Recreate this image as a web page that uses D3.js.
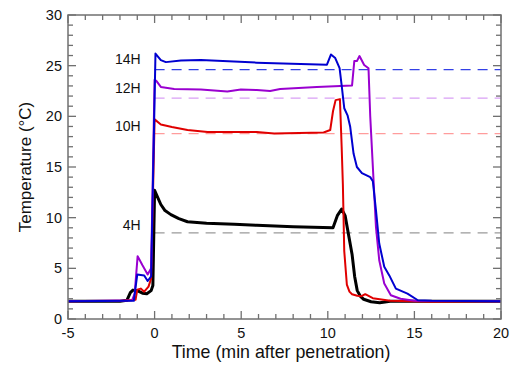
<!DOCTYPE html>
<html lang="en">
<head>
  <meta charset="UTF-8">
  <title>Temperature vs time</title>
  <script src="https://d3js.org/d3.v7.min.js"></script>
  <style>
    body { margin: 0; background: #fff; }
    svg { font-family: "Liberation Sans", Arial, Helvetica, sans-serif; }
  </style>
</head>
<body>
<script>
// series: [time (min), temperature (°C)]
const black4H = [[-5,1.75],[-2,1.75],[-1.6,1.85],[-1.4,2.6],[-1.25,2.85],[-1.0,2.8],[-0.7,2.55],[-0.45,2.5],[-0.2,2.8],[-0.1,3.3],[0,12.7],[0.1,12.3],[0.36,11.3],[0.6,10.7],[0.94,10.3],[1.4,9.9],[1.9,9.6],[3,9.45],[4.6,9.35],[5.9,9.25],[8,9.1],[10.3,9.0],[10.55,10.2],[10.8,10.85],[11.0,10.2],[11.4,6.4],[11.55,4.2],[11.7,2.8],[11.9,2.2],[12.07,1.95],[12.5,1.7],[13,1.6],[13.6,1.75],[20,1.75]];
const red10H = [[-5,1.75],[-1.8,1.8],[-1.1,1.9],[-1.0,2.9],[-0.8,3.0],[-0.6,2.7],[-0.35,3.2],[-0.2,4.0],[0,19.7],[0.36,19.2],[1.0,18.95],[1.9,18.65],[3.06,18.45],[5.9,18.45],[6.9,18.3],[9.76,18.4],[10.14,18.65],[10.3,20.5],[10.45,21.6],[10.7,21.7],[10.8,17],[10.87,13.3],[10.95,6.7],[11.1,3.4],[11.25,2.7],[11.4,2.45],[11.7,2.3],[11.95,2.25],[12.16,2.45],[12.6,2.05],[13.6,1.8],[16,1.7],[20,1.75]];
const purple12H = [[-5,1.75],[-1.3,1.85],[-1.15,2.5],[-0.98,6.2],[-0.7,5.3],[-0.4,4.4],[-0.2,5],[0,23.6],[0.1,23.5],[0.36,22.9],[1.13,22.7],[2.67,22.65],[4.2,22.45],[4.98,22.65],[5.9,22.6],[6.67,22.5],[7.25,22.7],[9.37,22.9],[11.4,23.05],[11.53,25.45],[11.68,25.45],[11.83,25.95],[12.1,25.07],[12.35,24.75],[12.45,20],[12.58,15.7],[12.78,9.1],[12.97,5.8],[13.26,3.5],[13.64,2.35],[14.2,2.0],[15,1.8],[20,1.75]];
const blue14H = [[-5,1.75],[-1.2,1.8],[-1.0,4.4],[-0.6,4.3],[-0.4,3.75],[-0.2,4.2],[0.05,26.2],[0.36,25.55],[0.65,25.35],[1.52,25.5],[2.67,25.55],[5.9,25.3],[9.95,25.1],[10.18,26.1],[10.43,25.75],[10.68,24.75],[10.81,22.9],[10.95,20.8],[11.14,20.1],[11.29,19.0],[11.49,16.3],[11.68,15.0],[11.97,14.4],[12.45,14.0],[12.6,13.6],[12.78,10.75],[12.97,7.45],[13.26,5.15],[13.55,4.3],[13.93,3.0],[14.6,2.5],[15.2,1.85],[16,1.8],[20,1.75]];

// equilibrium levels (dashed) and their labels
const levelNames = ["14H", "12H", "10H", "4H"];
const levelValues = [24.6, 21.8, 18.3, 8.5];
const levelStart = 0;

const xTicks = [-5, 0, 5, 10, 15, 20];
const yTicks = [0, 5, 10, 15, 20, 25, 30];

const width = 512, height = 368;
const margin = { top: 15, right: 11, bottom: 49, left: 68 };

const x = d3.scaleLinear().domain([-5, 20]).range([margin.left, width - margin.right]);
const y = d3.scaleLinear().domain([0, 30]).range([height - margin.bottom, margin.top]);

const svg = d3.select("body").append("svg")
    .attr("width", width)
    .attr("height", height);

const axisColor = "#707070";

// dashed levels first so curves sit above them
const dashColors = ["#3340e6", "#d9a0f5", "#ff9c9c", "#9a9a9a"];
svg.append("g")
  .selectAll("line")
  .data(levelValues)
  .join("line")
    .attr("x1", x(levelStart))
    .attr("x2", x(20))
    .attr("y1", d => y(d))
    .attr("y2", d => y(d))
    .attr("stroke", (d, i) => dashColors[i])
    .attr("stroke-width", 1.2)
    .attr("stroke-dasharray", "10,7");

svg.append("g")
  .selectAll("text")
  .data(levelValues)
  .join("text")
    .attr("x", x(-0.8))
    .attr("y", (d, i) => y([25.2, 22.3, 18.6, 8.8][i]))
    .attr("text-anchor", "end")
    .attr("font-size", 14)
    .attr("fill", "#111")
    .text((d, i) => levelNames[i]);

const line = d3.line().x(d => x(d[0])).y(d => y(d[1]));

const series = [
  { data: black4H, color: "#000000", w: 3 },
  { data: red10H, color: "#e00000", w: 2 },
  { data: purple12H, color: "#9a00d0", w: 2 },
  { data: blue14H, color: "#0000d0", w: 2 }
];

svg.append("g")
  .selectAll("path")
  .data(series)
  .join("path")
    .attr("d", d => line(d.data))
    .attr("fill", "none")
    .attr("stroke", d => d.color)
    .attr("stroke-width", d => d.w)
    .attr("stroke-linejoin", "round");

// frame
svg.append("rect")
    .attr("x", margin.left)
    .attr("y", margin.top)
    .attr("width", width - margin.left - margin.right)
    .attr("height", height - margin.top - margin.bottom)
    .attr("fill", "none")
    .attr("stroke", axisColor)
    .attr("stroke-width", 1.5);

// inward ticks on all four sides: major every 5, minor every 1
const ticksG = svg.append("g").attr("stroke", axisColor).attr("stroke-width", 1.3);
const xMinor = d3.range(-5, 20.01, 1);
const yMinor = d3.range(0, 30.01, 1);
const tl = v => (v % 5 === 0 ? 8 : 5);

ticksG.selectAll(".xb").data(xMinor).join("line")
    .attr("x1", d => x(d)).attr("x2", d => x(d))
    .attr("y1", y(0)).attr("y2", d => y(0) - tl(d));
ticksG.selectAll(".xt").data(xMinor).join("line")
    .attr("x1", d => x(d)).attr("x2", d => x(d))
    .attr("y1", y(30)).attr("y2", d => y(30) + tl(d));
ticksG.selectAll(".yl").data(yMinor).join("line")
    .attr("y1", d => y(d)).attr("y2", d => y(d))
    .attr("x1", x(-5)).attr("x2", d => x(-5) + tl(d));
ticksG.selectAll(".yr").data(yMinor).join("line")
    .attr("y1", d => y(d)).attr("y2", d => y(d))
    .attr("x1", x(20)).attr("x2", d => x(20) - tl(d));

// tick labels
svg.append("g").selectAll("text").data(xTicks).join("text")
    .attr("x", d => x(d))
    .attr("y", y(0) + 18.5)
    .attr("text-anchor", "middle")
    .attr("font-size", 14.5)
    .attr("fill", "#111")
    .text(d => d);

svg.append("g").selectAll("text").data(yTicks).join("text")
    .attr("x", x(-5) - 6)
    .attr("y", d => y(d) + 5)
    .attr("text-anchor", "end")
    .attr("font-size", 14.5)
    .attr("fill", "#111")
    .text(d => d);

// axis titles
svg.append("text")
    .attr("x", 281)
    .attr("y", 358)
    .attr("text-anchor", "middle")
    .attr("font-size", 17.8)
    .attr("fill", "#111")
    .text("Time (min after penetration)");

svg.append("text")
    .attr("transform", `translate(31,${(y(0) + y(30)) / 2}) rotate(-90)`)
    .attr("text-anchor", "middle")
    .attr("font-size", 17)
    .attr("fill", "#111")
    .text("Temperature (°C)");
</script>
</body>
</html>
